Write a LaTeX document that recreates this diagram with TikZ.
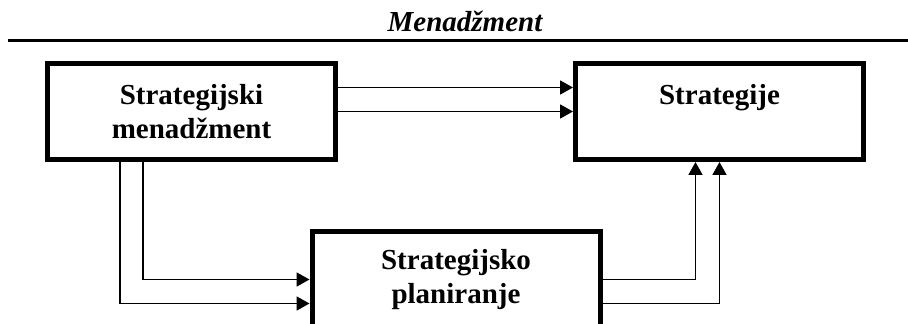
\documentclass[tikz,border=0pt]{standalone}
\usepackage{fontspec}
\setmainfont{Liberation Serif}
\usetikzlibrary{arrows.meta}

\begin{document}
\begin{tikzpicture}[x=1pt,y=1pt,
		box/.style={draw,line width=5pt,minimum width=288pt,minimum height=96pt,
			inner sep=0pt,align=center,font=\fontsize{29}{34}\selectfont\bfseries},
		link/.style={line width=1.8pt,-{Triangle[length=13pt,width=14pt]}}]
	\useasboundingbox (0,0) rectangle (908,324);
	\clip (0,0) rectangle (908,324);
	\node[anchor=base,inner sep=0pt,font=\fontsize{29}{34}\selectfont\bfseries\itshape] (title) at (465,292) {Menadžment};
	\coordinate (ruleL) at (8,283.5);
	\coordinate (ruleR) at (908,283.5);
	\draw[line width=2.5pt] (ruleL)--(ruleR);
	\node[box] (strmen) at (191.5,212.5) {Strategijski\\menadžment};
	\node[box] (strat) at (719.5,212.5) {Strategije\\~};
	\node[box] (strplan) at (456,44.5) {Strategijsko\\planiranje};
	\draw[link] ([yshift=24pt]strmen.east) -- ([yshift=24pt]strat.west);
	\draw[link] (strmen.east) -- (strat.west);
	\draw[link] ([xshift=98pt]strmen.south west) |- (strplan.west);
	\draw[link] ([xshift=75pt]strmen.south west) |- ([yshift=-24pt]strplan.west);
	\draw[link] (strplan.east) -| ([xshift=-24pt]strat.south);
	\draw[link] ([yshift=-24pt]strplan.east) -| (strat.south);
\end{tikzpicture}
\end{document}
